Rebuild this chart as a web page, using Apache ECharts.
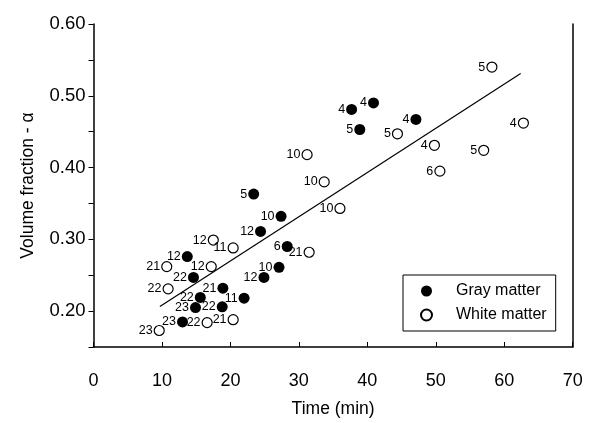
<!DOCTYPE html>
<html>
<head>
    <meta charset="utf-8" />
    <title>Volume fraction vs time</title>
    <script src="https://cdn.jsdelivr.net/npm/echarts@6/dist/echarts.min.js"></script>
    <style type="text/css">
        html, body { margin: 0; padding: 0; background: #fff; }
        #main { width: 591px; height: 423px; }
    </style>
</head>
<body>
<div id="main"></div>
<script type="text/javascript">
    // gray matter (filled circles), number next to each point
    var grayX = [37.7, 40.9, 38.9, 47.1, 23.4, 27.4, 24.4, 28.3, 27.1, 24.9, 13.7, 14.6, 18.9, 15.6, 22.0, 14.9, 18.8, 13.0];
    var grayY = [0.481, 0.490, 0.453, 0.467, 0.363, 0.332, 0.311, 0.290, 0.261, 0.247, 0.276, 0.247, 0.232, 0.219, 0.218, 0.205, 0.206, 0.185];
    var grayN = ['4', '4', '5', '4', '5', '10', '12', '6', '10', '12', '12', '22', '21', '22', '11', '23', '22', '23'];

    // white matter (open circles)
    var whiteX = [58.2, 62.8, 44.4, 49.8, 57.0, 50.6, 31.2, 33.7, 36.0, 17.5, 20.4, 31.5, 10.7, 17.2, 10.9, 16.6, 20.4, 9.6];
    var whiteY = [0.540, 0.462, 0.447, 0.431, 0.424, 0.395, 0.418, 0.380, 0.343, 0.299, 0.288, 0.282, 0.262, 0.262, 0.231, 0.184, 0.188, 0.173];
    var whiteN = ['5', '4', '5', '4', '5', '6', '10', '10', '10', '12', '11', '21', '21', '12', '22', '22', '21', '23'];

    // fitted line ends
    var fitX = [9.7, 62.4];
    var fitY = [0.2065, 0.531];

    var xTicks = [0, 70, 10];
    var yTicks = [0.15, 0.60, 0.05];

    function pts(xs, ys, ns) {
        var out = [];
        for (var i = 0; i < xs.length; i++) {
            out.push(ns ? [xs[i], ys[i], ns[i]] : [xs[i], ys[i]]);
        }
        return out;
    }

    var font = 'Liberation Sans';
    var pointLabel = {
        show: true,
        position: 'left',
        distance: 1,
        color: '#000',
        fontFamily: font,
        fontSize: 12.5,
        formatter: function (p) { return p.data[2]; }
    };

    var myChart = echarts.init(document.getElementById('main'));

    var option = {
        backgroundColor: '#fff',
        animation: false,
        grid: { left: 93.5, right: 18.3, top: 24, bottom: 72, containLabel: false },
        legend: {
            left: 403,
            top: 275,
            orient: 'vertical',
            data: ['Gray matter', 'White matter'],
            backgroundColor: '#fff',
            borderColor: '#000',
            borderWidth: 1,
            borderRadius: 0,
            padding: [8, 9, 8, 17],
            itemGap: 8,
            itemWidth: 11,
            itemHeight: 11,
            textStyle: { color: '#000', fontFamily: font, fontSize: 16, padding: [0, 0, 0, 19] }
        },
        xAxis: {
            type: 'value',
            min: xTicks[0], max: xTicks[1], interval: xTicks[2],
            name: 'Time (min)',
            nameLocation: 'middle',
            nameGap: 53,
            nameTextStyle: { color: '#000', fontFamily: font, fontSize: 17.5 },
            axisLine: { lineStyle: { color: '#000', width: 1.5 } },
            axisTick: { inside: true, length: 5, lineStyle: { color: '#000' } },
            axisLabel: { color: '#000', fontFamily: font, fontSize: 18, margin: 25 },
            splitLine: { show: false }
        },
        yAxis: [{
            type: 'value',
            min: yTicks[0], max: yTicks[1], interval: yTicks[2],
            name: 'Volume fraction - α',
            nameLocation: 'middle',
            nameGap: 56,
            nameTextStyle: { color: '#000', fontFamily: font, fontSize: 17.5 },
            axisLine: { lineStyle: { color: '#000', width: 1.5 } },
            axisTick: { length: 5, lineStyle: { color: '#000' } },
            axisLabel: {
                color: '#000', fontFamily: font, fontSize: 18.5, margin: 8,
                formatter: function (v) {
                    return Math.round(v * 100) % 10 === 0 ? v.toFixed(2) : '';
                }
            },
            splitLine: { show: false }
        }, {
            type: 'value',
            position: 'right',
            min: yTicks[0], max: yTicks[1], interval: yTicks[2],
            axisLine: { show: true, lineStyle: { color: '#000', width: 1.5 } },
            axisTick: { show: false },
            axisLabel: { show: false },
            splitLine: { show: false }
        }],
        series: [
            {
                name: 'fit',
                type: 'line',
                data: pts(fitX, fitY),
                symbol: 'none',
                lineStyle: { color: '#000', width: 1.2 },
                silent: true,
                z: 1
            },
            {
                name: 'Gray matter',
                type: 'scatter',
                data: pts(grayX, grayY, grayN),
                symbol: 'circle',
                symbolSize: 11,
                itemStyle: { color: '#000', opacity: 1 },
                label: pointLabel,
                z: 3
            },
            {
                name: 'White matter',
                type: 'scatter',
                data: pts(whiteX, whiteY, whiteN),
                symbol: 'circle',
                symbolSize: 10,
                itemStyle: { color: '#fff', borderColor: '#000', borderWidth: 1.2, opacity: 1 },
                label: pointLabel,
                z: 3
            }
        ]
    };

    myChart.setOption(option);
</script>
</body>
</html>
